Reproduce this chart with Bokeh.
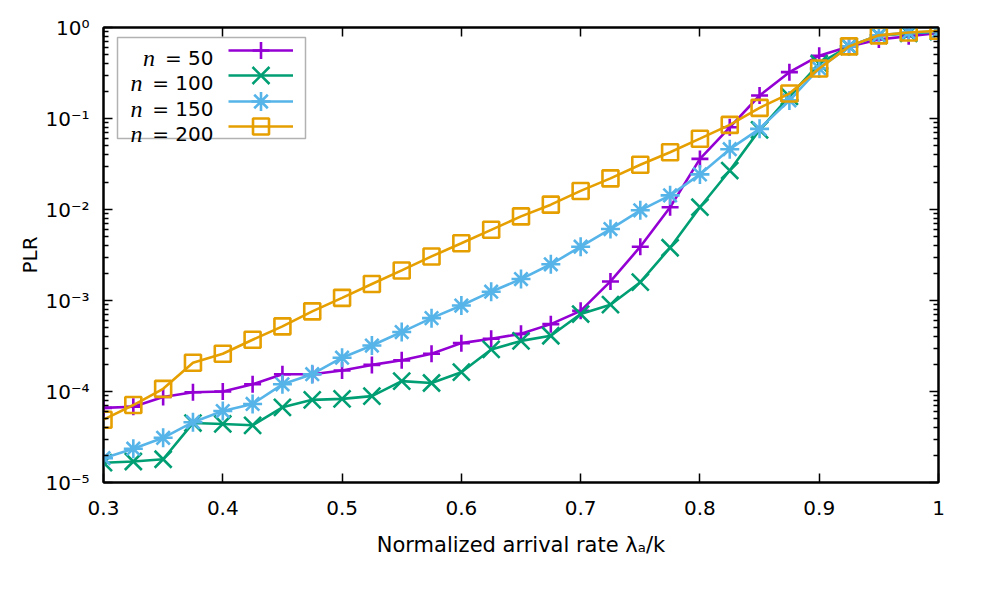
from bokeh.plotting import figure
from bokeh.models import (LogAxis, LinearAxis, FixedTicker, CustomJSTickFormatter,
                          Legend, LegendItem, Label, BoxAnnotation, Range1d)
from bokeh.embed import file_html
from bokeh.resources import INLINE

# ---------------- data ----------------
x_vals = [0.3, 0.325, 0.35, 0.375, 0.4, 0.425, 0.45, 0.475, 0.5, 0.525, 0.55, 0.575,
          0.6, 0.625, 0.65, 0.675, 0.7, 0.725, 0.75, 0.775, 0.8, 0.825, 0.85, 0.875,
          0.9, 0.925, 0.95, 0.975, 1.0]

plr_n50 = [6.6e-5, 6.8e-5, 8.7e-5, 9.8e-5, 1.0e-4, 1.2e-4, 1.55e-4, 1.55e-4, 1.7e-4,
           1.96e-4, 2.2e-4, 2.6e-4, 3.4e-4, 3.8e-4, 4.3e-4, 5.5e-4, 7.7e-4, 1.62e-3,
           3.9e-3, 1.06e-2, 3.6e-2, 8.0e-2, 0.179, 0.323, 0.49, 0.62, 0.74, 0.80, 0.87]

plr_n100 = [1.65e-5, 1.7e-5, 1.8e-5, 4.5e-5, 4.4e-5, 4.25e-5, 6.7e-5, 8.1e-5, 8.3e-5,
            8.9e-5, 1.3e-4, 1.24e-4, 1.63e-4, 2.9e-4, 3.6e-4, 4.1e-4, 7.1e-4, 9.0e-4,
            1.59e-3, 3.8e-3, 1.06e-2, 2.68e-2, 7.5e-2, 0.175, 0.40, 0.62, 0.82, 0.86, 0.90]

plr_n150 = [1.85e-5, 2.35e-5, 3.1e-5, 4.6e-5, 6.1e-5, 7.3e-5, 1.2e-4, 1.55e-4, 2.35e-4,
            3.2e-4, 4.5e-4, 6.4e-4, 8.8e-4, 1.25e-3, 1.72e-3, 2.5e-3, 3.9e-3, 6.1e-3,
            9.8e-3, 1.43e-2, 2.43e-2, 4.6e-2, 7.7e-2, 0.158, 0.355, 0.62, 0.82, 0.88, 0.90]

plr_n200 = [4.9e-5, 7.1e-5, 1.07e-4, 2.07e-4, 2.6e-4, 3.7e-4, 5.2e-4, 7.6e-4, 1.07e-3,
            1.52e-3, 2.14e-3, 3.05e-3, 4.26e-3, 5.98e-3, 8.4e-3, 1.13e-2, 1.6e-2, 2.2e-2,
            3.1e-2, 4.26e-2, 6.0e-2, 8.5e-2, 0.131, 0.188, 0.355, 0.62, 0.82, 0.88, 0.92]

series_n = ["50", "100", "150", "200"]
series_vals = [plr_n50, plr_n100, plr_n150, plr_n200]
series_colors = ["#9400D3", "#009E73", "#56B4E9", "#E69F00"]
series_markers = ["cross", "x", "asterisk", "square"]
marker_sizes = [17, 24, 19, 16]

x_ticks = [0.3, 0.4, 0.5, 0.6, 0.7, 0.8, 0.9, 1.0]
x_tick_labels = ["0.3", "0.4", "0.5", "0.6", "0.7", "0.8", "0.9", "1"]
y_ticks = [1e-5, 1e-4, 1e-3, 1e-2, 1e-1, 1.0]
y_tick_labels = ["10⁻⁵", "10⁻⁴", "10⁻³", "10⁻²", "10⁻¹", "10⁰"]

x_label = "Normalized arrival rate λₐ/k"
y_label = "PLR"

# ---------------- figure ----------------
FONT = "DejaVu Sans"
FS = "20px"
LW = 2.6

p = figure(width=965, height=573, y_axis_type="log",
           x_range=Range1d(0.3, 1.0), y_range=Range1d(1e-5, 1.0),
           output_backend="svg", toolbar_location=None,
           min_border_left=103, min_border_right=27, min_border_top=27, min_border_bottom=91)
p.xgrid.visible = False
p.ygrid.visible = False
p.outline_line_color = "black"
p.outline_line_width = 2
p.background_fill_color = "white"
p.border_fill_color = "white"

y_minor = [m * t for t in y_ticks[:-1] for m in range(2, 10)]
x_fmt = CustomJSTickFormatter(args=dict(tvals=x_ticks, labs=x_tick_labels), code="""
    for (let i = 0; i < tvals.length; i++) { if (Math.abs(tvals[i] - tick) < 1e-6) return labs[i]; }
    return '';
""")
y_fmt = CustomJSTickFormatter(args=dict(tvals=y_ticks, labs=y_tick_labels), code="""
    for (let i = 0; i < tvals.length; i++) {
        if (Math.abs(Math.log10(tvals[i]) - Math.log10(tick)) < 1e-6) return labs[i];
    }
    return '';
""")
empty_fmt = CustomJSTickFormatter(code="return '';")


def style_axis(ax, minor=True):
    ax.axis_line_color = "black"
    ax.axis_line_width = 2
    ax.major_tick_in = 9
    ax.major_tick_out = 0
    ax.major_tick_line_color = "black"
    ax.major_tick_line_width = 1.5
    if minor:
        ax.minor_tick_in = 5
        ax.minor_tick_out = 0
        ax.minor_tick_line_color = "black"
        ax.minor_tick_line_width = 1.5
    else:
        ax.minor_tick_line_color = None
    ax.major_label_text_font = FONT
    ax.major_label_text_font_size = FS
    ax.major_label_text_color = "black"
    ax.axis_label_text_font = FONT
    ax.axis_label_text_font_size = FS
    ax.axis_label_text_font_style = "normal"
    ax.axis_label_text_color = "black"


xax = p.xaxis[0]
xax.ticker = FixedTicker(ticks=x_ticks)
xax.formatter = x_fmt
xax.axis_label = x_label
style_axis(xax, minor=False)
xax.axis_label_text_font_size = "21px"
xax.major_label_standoff = 18
xax.axis_label_standoff = 15

yax = p.yaxis[0]
yax.ticker = FixedTicker(ticks=y_ticks, minor_ticks=y_minor)
yax.formatter = y_fmt
yax.axis_label = y_label
style_axis(yax)
yax.major_label_standoff = 14
yax.axis_label_standoff = 0

top_ax = LinearAxis(ticker=FixedTicker(ticks=x_ticks), formatter=empty_fmt)
style_axis(top_ax, minor=False)
p.add_layout(top_ax, "above")

right_ax = LogAxis(ticker=FixedTicker(ticks=y_ticks, minor_ticks=y_minor), formatter=empty_fmt)
style_axis(right_ax)
p.add_layout(right_ax, "right")

items = []
for n, vals, col, mk, ms in zip(series_n, series_vals, series_colors, series_markers, marker_sizes):
    lr = p.line(x_vals, vals, line_color=col, line_width=LW)
    sr = p.scatter(x_vals, vals, marker=mk, size=ms, line_color=col, fill_color=None,
                   line_width=LW)
    items.append(LegendItem(label=" ", renderers=[lr, sr]))

# ---------------- legend (gnuplot style: text left, sample right) ----------------
box = BoxAnnotation(left=14, right=202, top=445, bottom=344,
                    left_units="screen", right_units="screen",
                    top_units="screen", bottom_units="screen",
                    fill_color="white", fill_alpha=1.0,
                    line_color="black", line_width=1.5)
p.add_layout(box)

row_centers = [432, 407, 381, 356]
for item, n, yc, ms in zip(items, series_n, row_centers, marker_sizes):
    gh = int(round(ms / 0.4))
    leg = Legend(items=[item], location=(125, yc - gh / 2), orientation="vertical",
                 glyph_width=65, glyph_height=gh, label_width=0, label_height=10,
                 label_standoff=0, label_text_font_size="6px", spacing=0,
                 padding=0, margin=0, border_line_alpha=0, background_fill_alpha=0)
    p.add_layout(leg)
    p.add_layout(Label(x=110, y=yc - 7, x_units="screen", y_units="screen",
                       text="= " + n, text_align="right", text_baseline="alphabetic",
                       text_font=FONT, text_font_size=FS, text_color="black"))
    p.add_layout(Label(x=110 - 12.7 * len(n) - 33, y=yc - 7, x_units="screen", y_units="screen",
                       text="n", text_align="right", text_baseline="alphabetic",
                       text_font="Liberation Serif", text_font_style="italic",
                       text_font_size="24px", text_color="black"))

open("out.html", "w").write(file_html(p, INLINE))
